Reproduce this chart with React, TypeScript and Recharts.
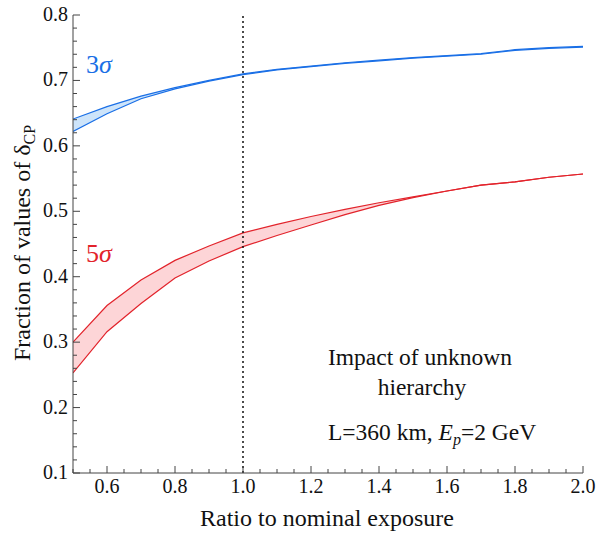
import { ComposedChart, Area, XAxis, YAxis, ReferenceLine, Customized } from "recharts";

const ratio = [0.5, 0.6, 0.7, 0.8, 0.9, 1.0, 1.1, 1.2, 1.3, 1.4, 1.5, 1.6, 1.7, 1.8, 1.9, 2.0];
const sigma3Low = [0.622, 0.649, 0.672, 0.687, 0.699, 0.709, 0.716, 0.721, 0.726, 0.73, 0.734, 0.737, 0.74, 0.746, 0.749, 0.751];
const sigma3High = [0.641, 0.66, 0.676, 0.689, 0.7, 0.71, 0.717, 0.722, 0.727, 0.731, 0.735, 0.738, 0.741, 0.747, 0.75, 0.752];
const sigma5Low = [0.253, 0.316, 0.359, 0.398, 0.424, 0.446, 0.463, 0.479, 0.495, 0.509, 0.521, 0.531, 0.54, 0.545, 0.552, 0.557];
const sigma5High = [0.3, 0.356, 0.395, 0.425, 0.447, 0.467, 0.48, 0.492, 0.503, 0.513, 0.522, 0.531, 0.54, 0.545, 0.552, 0.557];

const xTicks: number[] = [];
for (let i = 0; i <= 30; i++) xTicks.push(Math.round((0.5 + i * 0.05) * 100) / 100);
const yTicks: number[] = [];
for (let i = 0; i <= 35; i++) yTicks.push(Math.round((0.1 + i * 0.02) * 100) / 100);

const data = ratio.map((x, i) => ({
  x,
  s3: [sigma3Low[i], sigma3High[i]],
  s5: [sigma5Low[i], sigma5High[i]],
}));

const FONT = "'Liberation Serif', 'Times New Roman', serif";
const FRAME = "#444";
const BLUE = "#1a6fe6";
const RED = "#e2232b";
const TXT = "#111";

const isMajorX = (v: number) => Math.round(v * 100) % 20 === 0;
const isMajorY = (v: number) => Math.round(v * 100) % 10 === 0;

const BottomTick = ({ x, y, payload }: any) => {
  const major = isMajorX(payload.value);
  return (
    <g>
      <line x1={x} x2={x} y1={y} y2={y - (major ? 7 : 4)} stroke={FRAME} />
      {major && (
        <text x={x} y={y + 20} textAnchor="middle" fontSize={20} style={{ fontFamily: FONT }} fill={TXT}>
          {payload.value.toFixed(1)}
        </text>
      )}
    </g>
  );
};

const TopTick = ({ x, y, payload }: any) => (
  <line x1={x} x2={x} y1={y} y2={y + (isMajorX(payload.value) ? 7 : 4)} stroke={FRAME} />
);

const LeftTick = ({ x, y, payload }: any) => {
  const major = isMajorY(payload.value);
  return (
    <g>
      <line x1={x} x2={x + (major ? 7 : 4)} y1={y} y2={y} stroke={FRAME} />
      {major && (
        <text x={x - 5} y={y + 6} textAnchor="end" fontSize={20} style={{ fontFamily: FONT }} fill={TXT}>
          {payload.value.toFixed(1)}
        </text>
      )}
    </g>
  );
};

const RightTick = ({ x, y, payload }: any) => (
  <line x1={x} x2={x - (isMajorY(payload.value) ? 7 : 4)} y1={y} y2={y} stroke={FRAME} />
);

const Texts = () => (
  <g style={{ fontFamily: FONT }}>
    <text x={86} y={73} fontSize={26} fill={BLUE}>
      3<tspan fontStyle="italic">σ</tspan>
    </text>
    <text x={86} y={262} fontSize={26} fill={RED}>
      5<tspan fontStyle="italic">σ</tspan>
    </text>
    <text x={420} y={365} fontSize={23.5} textAnchor="middle" fill={TXT}>
      Impact of unknown
    </text>
    <text x={422} y={395} fontSize={23.5} textAnchor="middle" fill={TXT}>
      hierarchy
    </text>
    <text x={328} y={440} fontSize={23.5} fill={TXT}>
      L=360 km, <tspan fontStyle="italic">E</tspan>
      <tspan fontStyle="italic" fontSize={16} dy={5}>p</tspan>
      <tspan dy={-5}>=2 GeV</tspan>
    </text>
    <text x={327} y={526} fontSize={24} textAnchor="middle" fill={TXT}>
      Ratio to nominal exposure
    </text>
    <text transform="translate(30,243) rotate(-90)" fontSize={24} textAnchor="middle" fill={TXT}>
      Fraction of values of δ
      <tspan fontSize={16} dy={5}>CP</tspan>
    </text>
  </g>
);

export default function App() {
  return (
    <div style={{ position: "absolute", left: 0, top: 0 }}>
      <ComposedChart width={599} height={534} data={data} margin={{ top: 15, right: 16, left: 0, bottom: 0 }}>
        <XAxis
          xAxisId="b"
          dataKey="x"
          type="number"
          domain={[0.5, 2]}
          ticks={xTicks}
          interval={0}
          allowDataOverflow
          height={61}
          tickSize={0}
          tickMargin={0}
          tickLine={false}
          axisLine={{ stroke: FRAME }}
          tick={BottomTick}
        />
        <XAxis
          xAxisId="t"
          orientation="top"
          dataKey="x"
          type="number"
          domain={[0.5, 2]}
          ticks={xTicks}
          interval={0}
          allowDataOverflow
          height={0}
          tickSize={0}
          tickMargin={0}
          tickLine={false}
          axisLine={{ stroke: FRAME }}
          tick={TopTick}
        />
        <YAxis
          yAxisId="l"
          type="number"
          domain={[0.1, 0.8]}
          ticks={yTicks}
          interval={0}
          allowDataOverflow
          width={73}
          tickSize={0}
          tickMargin={0}
          tickLine={false}
          axisLine={{ stroke: FRAME }}
          tick={LeftTick}
        />
        <YAxis
          yAxisId="r"
          orientation="right"
          type="number"
          domain={[0.1, 0.8]}
          ticks={yTicks}
          interval={0}
          allowDataOverflow
          width={0}
          tickSize={0}
          tickMargin={0}
          tickLine={false}
          axisLine={{ stroke: FRAME }}
          tick={RightTick}
        />
        <Area
          xAxisId="b"
          yAxisId="l"
          dataKey="s5"
          type="linear"
          stroke={RED}
          strokeWidth={1.2}
          fill="#fdd5d7"
          fillOpacity={1}
          dot={false}
          activeDot={false}
          isAnimationActive={false}
        />
        <Area
          xAxisId="b"
          yAxisId="l"
          dataKey="s3"
          type="linear"
          stroke={BLUE}
          strokeWidth={1.2}
          fill="#cde4fa"
          fillOpacity={1}
          dot={false}
          activeDot={false}
          isAnimationActive={false}
        />
        <ReferenceLine xAxisId="b" yAxisId="l" x={1} stroke={TXT} strokeWidth={1.5} strokeDasharray="2 3" />
        <Customized component={Texts} />
      </ComposedChart>
    </div>
  );
}
